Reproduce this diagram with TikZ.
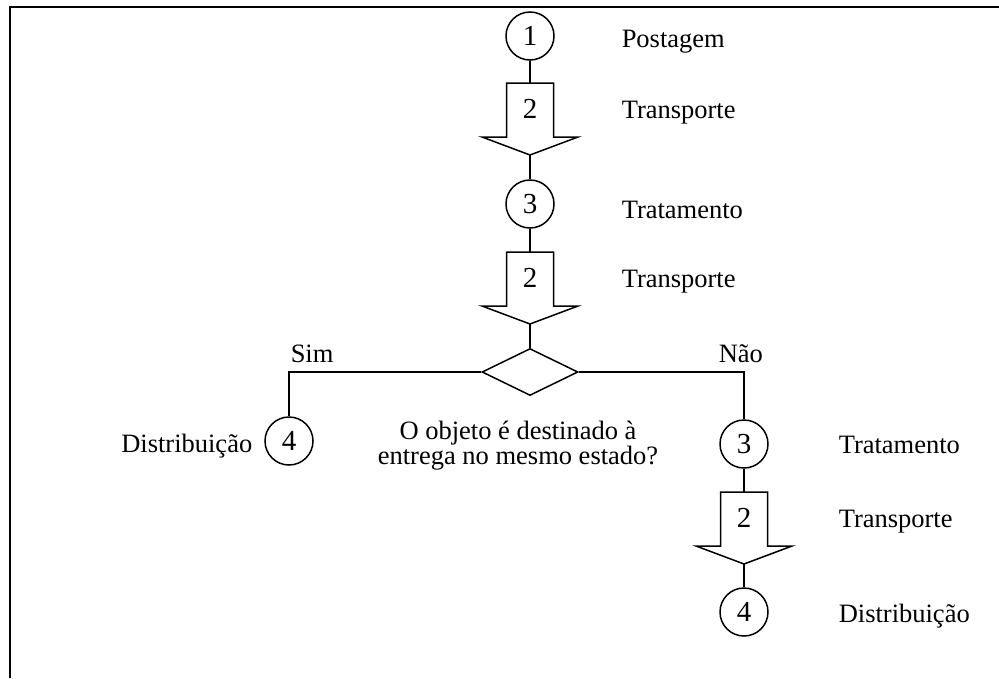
\documentclass[tikz,border=0pt]{standalone}
\usepackage{fontspec}
\setmainfont{Liberation Serif}
\usetikzlibrary{shapes.geometric}
\newcommand{\downarrowshape}[4]{% x, top y, name, label
  \draw[line join=miter] (#1-23.5,#2) -- (#1+23.5,#2) -- (#1+23.5,#2+54) -- (#1+48,#2+54) -- (#1,#2+72) -- (#1-48,#2+54) -- (#1-23.5,#2+54) -- cycle;
  \coordinate (#3t) at (#1,#2);
  \coordinate (#3b) at (#1,#2+72);
  \node[num] (#3n) at (#1,#2+26) {#4};
}
\begin{document}
\begin{tikzpicture}[x=1pt,y=-1pt,line width=1.5pt,
  stepcirc/.style={circle,draw,minimum size=48pt,inner sep=0pt,font=\fontsize{29}{30}\selectfont},
  lbl/.style={font=\fontsize{26.5}{25}\selectfont,inner sep=0pt},
  dec/.style={diamond,draw,minimum width=96pt,minimum height=47pt,inner sep=0pt,aspect=2},
  num/.style={font=\fontsize{29}{30}\selectfont,inner sep=0pt}]
\useasboundingbox (0,0) rectangle (999,678);
\draw (10,678) -- (10,7) -- (999,7);
\node[stepcirc] (c1) at (530,36) {1};
\downarrowshape{530}{83}{a1}{2}
\node[stepcirc] (c3) at (530,204) {3};
\downarrowshape{530}{252}{a2}{2}
\node[dec] (d) at (530,372) {};
\node[stepcirc] (l4) at (289,441) {4};
\node[stepcirc] (r3) at (744,444) {3};
\downarrowshape{744}{492}{a3}{2}
\node[stepcirc] (r4) at (744,612) {4};
\draw (c1) -- (a1t);
\draw (a1b) -- (c3);
\draw (c3) -- (a2t);
\draw (a2b) -- (d.north);
\draw (d.west) -| (l4);
\draw (d.east) -| (r3);
\draw (r3) -- (a3t);
\draw (a3b) -- (r4);
\node[lbl,anchor=base west] (t1) at (621,47) {Postagem};
\node[lbl,anchor=base west] (t2) at (621,118) {Transporte};
\node[lbl,anchor=base west] (t3) at (621,218) {Tratamento};
\node[lbl,anchor=base west] (t4) at (621,287) {Transporte};
\node[lbl,anchor=base west] (sim) at (290,362) {Sim};
\node[lbl,anchor=base west] (nao) at (718,362) {Não};
\node[lbl,anchor=base east] (t5) at (253,452) {Distribuição};
\node[lbl,align=center,anchor=base] (q) at (518,464) {O objeto é destinado à\\entrega no mesmo estado?};
\node[lbl,anchor=base west] (t6) at (838,453) {Tratamento};
\node[lbl,anchor=base west] (t7) at (838,527) {Transporte};
\node[lbl,anchor=base west] (t8) at (838,622) {Distribuição};
\end{tikzpicture}
\end{document}
